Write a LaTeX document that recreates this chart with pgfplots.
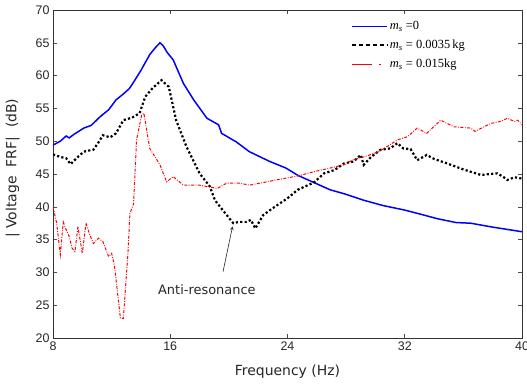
\documentclass[border=0pt]{standalone}
\usepackage{fontspec}
\setmainfont{Liberation Sans}
\newfontfamily\labfont{DejaVu Sans}
\newfontfamily\legfont{Liberation Serif}
\usepackage{pgfplots}
\pgfplotsset{compat=1.18}
\begin{document}
\begin{tikzpicture}
\path[use as bounding box] (-53bp,-50bp) rectangle (474bp,338bp);
\begin{axis}[
  at={(0,0)}, anchor=south west,
  scale only axis, width=469bp, height=328bp,
  xmin=8, xmax=40, ymin=20, ymax=70,
  xtick={8,16,24,32,40}, ytick={20,25,...,70},
  tick align=inside, major tick length=4bp,
  axis line style={line width=0.9pt, black!80},
  tick style={black!70, line width=0.6pt},
  /pgf/number format/assume math mode=true,
  ticklabel style={font=\fontsize{12.5}{14}\selectfont, text=black!85},
  xlabel={\labfont Frequency (Hz)},
  ylabel={\labfont |\hspace{4bp}Voltage\hspace{9bp}FRF|\hspace{9bp}(dB)},
  label style={font=\fontsize{14}{16}\selectfont, text=black!85},
  xlabel style={yshift=-8bp},
  ylabel style={yshift=9bp, xshift=6bp},
  legend style={draw=none, fill=none, at={(0.628,0.978)}, anchor=north west,
    font=\legfont\fontsize{12.5}{14}\selectfont, row sep=5bp},
  legend cell align=left,
  legend image code/.code={\draw[#1] (0bp,0bp) -- (35bp,0bp);},
]
\addplot[blue, line width=1.5pt] coordinates {
(8,49.4)(8.5,50.0)(8.9,50.8)(9.1,50.5)(9.4,51.0)(10.1,52.0)(10.6,52.4)(11.2,53.7)
(11.8,54.8)(12.3,56.3)(12.8,57.2)(13.2,58.0)(13.5,59.0)(14.0,60.8)(14.6,63.2)
(15.0,64.3)(15.3,65.0)(15.5,64.6)(15.8,63.5)(16.2,62.4)(16.9,58.8)(17.6,56.3)
(18.5,53.5)(19.3,52.5)(19.5,51.2)(20.5,49.9)(21.4,48.4)(22.8,46.9)(23.9,45.9)
(24.7,44.8)(25.8,43.7)(26.9,42.6)(28.0,41.9)
(29.2,41.0)(30.5,40.2)(32.0,39.5)(33.2,38.8)(34.2,38.2)(35.5,37.6)(36.5,37.5)
(38.0,36.9)(40.0,36.2)};
\addlegendentry{\textit{m}\textsubscript{\textit{s}} =0}
\addplot[black, line width=2.2pt, dash pattern=on 2.2pt off 2.2pt,
  legend image code/.code={\draw[black, line width=2.2pt, dash pattern=on 4.5pt off 2.5pt] (0bp,0bp) -- (35bp,0bp);}] coordinates {
(8,48.0)(8.5,47.6)(8.9,47.4)(9.2,46.5)(9.6,47.4)(10.1,48.4)(10.5,48.6)(10.75,48.7)
(11.1,49.8)(11.4,50.9)(11.9,50.6)(12.3,51.2)(12.8,53.2)(13.4,53.6)(13.9,54.25)
(14.3,56.8)(14.8,58.1)(15.4,59.3)(15.9,58.3)(16.4,53.2)(17.1,49.2)
(18.0,45.1)(18.7,43.1)(19.05,41.0)(19.4,40.0)(20.3,37.5)(20.7,37.7)
(21.2,37.7)(21.5,38.0)(21.8,36.7)(22.35,38.75)(23.0,39.8)(24.0,41.3)(24.7,42.6)
(25.3,43.2)(25.8,43.7)(26.5,45.1)(27.2,45.6)(27.85,46.6)(28.5,46.9)(29.0,47.9)
(29.2,46.4)(29.7,47.6)(30.35,48.7)(31.0,48.9)(31.5,49.7)(31.9,48.9)(32.4,48.8)
(32.85,47.1)(33.5,47.9)(34.0,47.3)(34.9,46.6)(36.0,45.7)(37.2,44.85)(38.3,45.1)
(38.7,44.6)(39.0,44.1)(39.5,44.5)(40.0,44.3)};
\addlegendentry{\textit{m}\textsubscript{\textit{s}} = 0.0035\,kg}
\addplot[red, line width=1pt, dash pattern=on 3pt off 1.5pt on 0.8pt off 1.5pt,
  legend image code/.code={\draw[red, line width=1.3pt, dash pattern=on 20bp off 7bp on 2bp off 20bp] (0bp,0bp) -- (35bp,0bp);}] coordinates {
(8,40.0)(8.25,37.5)(8.5,32.7)(8.7,37.7)(8.9,36.5)(9.1,35.5)(9.3,33.7)(9.5,33.2)
(9.7,37.0)(10.0,32.9)(10.25,37.5)(10.5,35.8)(10.75,34.4)(11.1,35.2)(11.4,34.7)
(11.8,32.4)(12.0,32.9)(12.2,30.9)(12.6,23.0)(12.8,23.0)(13.1,32.4)(13.25,39.0)
(13.5,40.5)(13.7,50.2)(14.05,54.0)(14.2,54.25)(14.6,48.9)(15.3,46.4)
(15.75,43.8)(16.2,44.6)(16.9,43.3)(18.0,43.3)(19.2,42.8)(19.85,43.6)
(20.75,43.6)(21.4,43.3)(22.35,43.7)(23.25,44.1)(24.7,44.7)(25.8,45.35)
(26.9,45.9)(27.85,46.4)(28.5,47.2)(29.2,47.6)(30.0,48.2)(30.6,48.9)(31.5,50.2)
(32.2,50.7)(32.85,52.0)(33.5,51.2)(34.45,53.2)(35.35,52.2)(36.5,52.0)(36.8,51.5)
(37.85,52.7)(38.5,53.0)(39.0,53.5)(39.5,53.0)(39.7,53.2)(40.0,52.5)};
\addlegendentry{\textit{m}\textsubscript{\textit{s}} = 0.015kg}
\draw[-stealth, black!85, line width=0.6pt] (axis cs:19.6,30.1) -- (axis cs:20.25,37.0);
\node[font=\labfont\fontsize{13}{15}\selectfont, text=black!85] at (axis cs:18.5,27.3) {Anti-resonance};
\end{axis}
\end{tikzpicture}
\end{document}
